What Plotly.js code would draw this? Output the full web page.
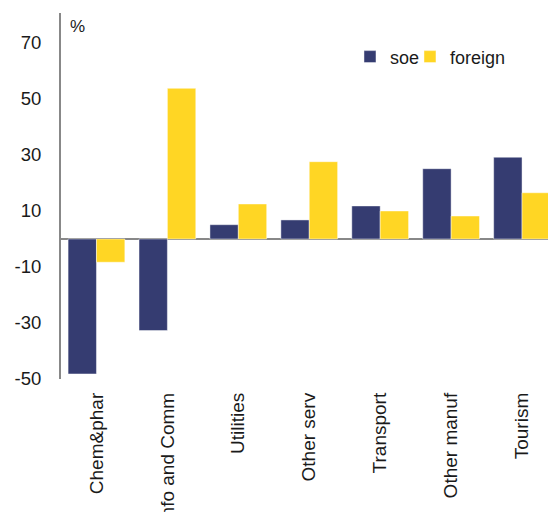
<!DOCTYPE html>
<html>
<head>
<meta charset="utf-8">
<script src="https://cdn.plot.ly/plotly-3.0.1.min.js"></script>
<style>html,body{margin:0;padding:0;background:#fff;}#chart{width:548px;height:512px;}</style>
</head>
<body>
<div id="chart"></div>
<script>
const categories = ["Chem&phar", "Info and Comm", "Utilities", "Other serv", "Transport", "Other manuf", "Tourism"];
const soeValues = [-48.2, -32.7, 5.1, 6.8, 11.8, 25.1, 29.2];
const foreignValues = [-8.3, 53.8, 12.5, 27.6, 10.0, 8.2, 16.5];
const yTickValues = [-50, -30, -10, 10, 30, 50, 70];

const FONT = "'Liberation Sans', Arial, sans-serif";
const TXT = "#1a1a1a";

const traces = [
  {type: "bar", name: "soe", x: categories, y: soeValues, legend: "legend",
   marker: {color: "#353C71", line: {color: "rgba(255,255,255,0.45)", width: 1}}},
  {type: "bar", name: "foreign", x: categories, y: foreignValues, legend: "legend2",
   marker: {color: "#FFD624", line: {color: "rgba(255,255,255,0.45)", width: 1}}}
];

const legendBase = {orientation: "h", yanchor: "middle", xanchor: "left", y: 0.88,
                    font: {family: FONT, size: 18, color: TXT}, bgcolor: "rgba(0,0,0,0)",
                    itemwidth: 30};

const layout = {
  width: 548, height: 512,
  margin: {l: 61, r: 0, t: 13, b: 133},
  paper_bgcolor: "#fff", plot_bgcolor: "#fff",
  font: {family: FONT, size: 18, color: TXT},
  barmode: "group", bargap: 0.2, bargroupgap: 0,
  showlegend: true,
  legend: Object.assign({}, legendBase, {x: 0.5934}),
  legend2: Object.assign({}, legendBase, {x: 0.7166}),
  xaxis: {type: "category", range: [-0.5, 6.366], showgrid: false, showline: false,
          ticks: "", tickangle: -90, tickfont: {family: FONT, size: 19, color: TXT},
          ticklabelstandoff: 9, fixedrange: true},
  yaxis: {range: [-50, 80.7], tickvals: yTickValues, ticktext: yTickValues.map(String),
          showgrid: false, showline: true, linecolor: "#888", linewidth: 2,
          zeroline: true, zerolinecolor: "#888", zerolinewidth: 2,
          ticks: "", ticklabelstandoff: 14, tickfont: {family: FONT, size: 18.5, color: TXT},
          fixedrange: true},
  annotations: [{text: "%", xref: "paper", yref: "paper", x: 0.014, y: 0.964,
                 xanchor: "left", yanchor: "middle", showarrow: false,
                 font: {family: FONT, size: 17, color: TXT}}]
};

Plotly.newPlot("chart", traces, layout, {staticPlot: true, displayModeBar: false});
</script>
</body>
</html>
